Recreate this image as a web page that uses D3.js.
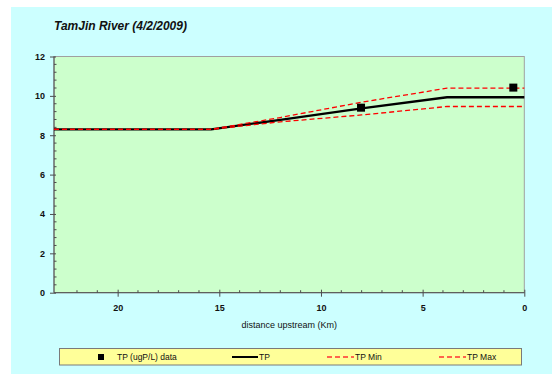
<!DOCTYPE html>
<html>
<head>
<meta charset="utf-8">
<script src="https://cdn.jsdelivr.net/npm/d3@7/dist/d3.min.js"></script>
<style>
  html, body { margin: 0; padding: 0; background: #ffffff; }
  svg { display: block; font-family: "Liberation Sans", Arial, sans-serif; }
</style>
</head>
<body>
<svg id="chart" width="552" height="374"></svg>
<script>
// Distance upstream (km) and total phosphorus (ugP/L)
const modelKm   = [23.13, 15.4, 12, 8, 3.8, 0];
const tpModel   = [8.3, 8.3, 8.78, 9.37, 9.93, 9.93];
const tpMin     = [8.3, 8.3, 8.68, 9.03, 9.46, 9.46];
const tpMax     = [8.3, 8.3, 8.9, 9.68, 10.39, 10.39];
const sampleKm  = [8.03, 0.54];
const sampleTP  = [9.4, 10.42];
const xTicks    = [20, 15, 10, 5, 0];
const yTicks    = [0, 2, 4, 6, 8, 10, 12];

const svg = d3.select("#chart");

// chart area background
svg.append("rect").attr("x", 11).attr("y", 7).attr("width", 541).attr("height", 367)
  .attr("fill", "#ccffff");

const plot = { left: 54, right: 524.3, top: 56.5, bottom: 292.7 };

const x = d3.scaleLinear().domain([23.13, 0]).range([plot.left, plot.right]);
const y = d3.scaleLinear().domain([0, 12]).range([plot.bottom, plot.top]);

// plot area
svg.append("rect")
  .attr("x", plot.left).attr("y", plot.top)
  .attr("width", plot.right - plot.left).attr("height", plot.bottom - plot.top)
  .attr("fill", "#ccffcc").attr("stroke", "#a0a0a0").attr("stroke-width", 1);

// title
svg.append("text").attr("x", 54).attr("y", 30)
  .attr("font-size", 12).attr("font-style", "italic").attr("font-weight", "bold")
  .attr("fill", "#111").text("TamJin River (4/2/2009)");

const axisColor = "#4d4d4d";

// minor ticks (inside)
const g = svg.append("g");
d3.range(1, 23).forEach(k => {
  if (k % 5 === 0) return;
  g.append("line").attr("x1", x(k)).attr("x2", x(k))
    .attr("y1", plot.bottom).attr("y2", plot.bottom - 2.5)
    .attr("stroke", axisColor).attr("stroke-width", 1);
});
d3.range(0, 30).map(i => +(i * 0.4).toFixed(1)).forEach(v => {
  if (v % 2 === 0 || v > 12) return;
  g.append("line").attr("x1", plot.left).attr("x2", plot.left + 2.5)
    .attr("y1", y(v)).attr("y2", y(v))
    .attr("stroke", axisColor).attr("stroke-width", 1);
});

// x axis
const xAxis = d3.axisBottom(x).tickValues(xTicks).tickSize(4).tickSizeOuter(0)
  .tickFormat(d3.format("d"));
const gx = svg.append("g").attr("transform", `translate(0,${plot.bottom})`).call(xAxis);
gx.select(".domain").attr("stroke", axisColor).attr("d", `M${plot.left},0H${plot.right}`);
gx.selectAll(".tick line").attr("stroke", axisColor).attr("y1", -3).attr("y2", 4);
gx.selectAll(".tick text").attr("font-size", 9).attr("font-weight", "bold")
  .attr("fill", "#111").attr("font-family", "Liberation Sans, Arial, sans-serif").attr("dy", "1.3em");

// y axis
const yAxis = d3.axisLeft(y).tickValues(yTicks).tickSize(4).tickSizeOuter(0);
const gy = svg.append("g").attr("transform", `translate(${plot.left},0)`).call(yAxis);
gy.select(".domain").attr("stroke", axisColor).attr("d", `M0,${plot.bottom}V${plot.top}`);
gy.selectAll(".tick line").attr("stroke", axisColor).attr("x1", 2).attr("x2", -4);
gy.selectAll(".tick text").attr("font-size", 9).attr("font-weight", "bold")
  .attr("fill", "#111").attr("font-family", "Liberation Sans, Arial, sans-serif").attr("x", -9);

// x axis title
svg.append("text").attr("x", (plot.left + plot.right) / 2).attr("y", 328)
  .attr("text-anchor", "middle").attr("font-size", 9).attr("fill", "#111")
  .text("distance upstream (Km)");

// series: model line first, then the min/max envelope on top
const line = d3.line().x(d => x(d[0])).y(d => y(d[1]));
const pts = arr => modelKm.map((k, i) => [k, arr[i]]);

svg.append("path").datum(pts(tpModel)).attr("d", line).attr("fill", "none")
  .attr("stroke", "#000").attr("stroke-width", 2.3);
svg.append("path").datum(pts(tpMin)).attr("d", line).attr("fill", "none")
  .attr("stroke", "#ff0000").attr("stroke-width", 1.3).attr("stroke-dasharray", "5,3");
svg.append("path").datum(pts(tpMax)).attr("d", line).attr("fill", "none")
  .attr("stroke", "#ff0000").attr("stroke-width", 1.3).attr("stroke-dasharray", "5,3");

svg.selectAll("rect.sample").data(sampleKm.map((k, i) => [k, sampleTP[i]]))
  .enter().append("rect").attr("class", "sample")
  .attr("x", d => x(d[0]) - 4).attr("y", d => y(d[1]) - 4)
  .attr("width", 8).attr("height", 8).attr("fill", "#000");

// legend
const lg = svg.append("g");
lg.append("rect").attr("x", 59.5).attr("y", 348.5).attr("width", 462).attr("height", 16.5)
  .attr("fill", "#ffff99").attr("stroke", "#7a7a7a").attr("stroke-width", 1);
const ly = 357;
lg.append("rect").attr("x", 98).attr("y", ly - 3).attr("width", 6).attr("height", 6).attr("fill", "#000");
lg.append("text").attr("x", 117).attr("y", ly + 3).attr("font-size", 8.5).attr("fill", "#111").text("TP (ugP/L) data");
lg.append("line").attr("x1", 232).attr("x2", 258).attr("y1", ly).attr("y2", ly)
  .attr("stroke", "#000").attr("stroke-width", 2);
lg.append("text").attr("x", 259).attr("y", ly + 3).attr("font-size", 8.5).attr("fill", "#111").text("TP");
lg.append("line").attr("x1", 327).attr("x2", 354).attr("y1", ly).attr("y2", ly)
  .attr("stroke", "#ff3333").attr("stroke-width", 1.3).attr("stroke-dasharray", "5,3");
lg.append("text").attr("x", 355).attr("y", ly + 3).attr("font-size", 8.5).attr("fill", "#111").text("TP Min");
lg.append("line").attr("x1", 439).attr("x2", 466).attr("y1", ly).attr("y2", ly)
  .attr("stroke", "#ff3333").attr("stroke-width", 1.3).attr("stroke-dasharray", "5,3");
lg.append("text").attr("x", 467).attr("y", ly + 3).attr("font-size", 8.5).attr("fill", "#111").text("TP Max");
</script>
</body>
</html>
